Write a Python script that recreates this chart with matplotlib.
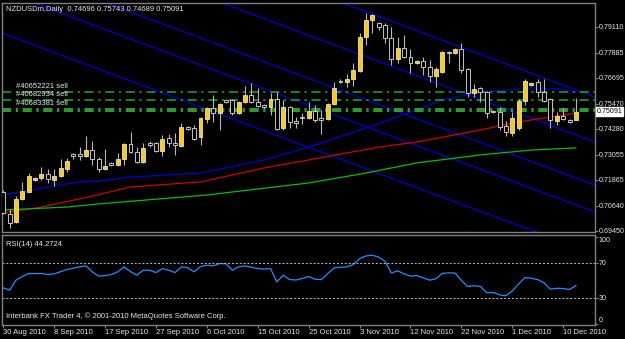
import matplotlib.pyplot as plt

# daily bars, 30 Aug 2010 .. 13 Dec 2010 (Sunday bars included)
opens = [0.7128, 0.7024, 0.6986, 0.7095, 0.7128, 0.7185, 0.7195, 0.7214, 0.7185, 0.7204,
         0.7237, 0.7308, 0.7308, 0.7299, 0.7327, 0.7285, 0.7237, 0.7266, 0.7256, 0.7285,
         0.7356, 0.7318, 0.7270, 0.7358, 0.7360, 0.7322, 0.7384, 0.7360, 0.7346, 0.7436,
         0.7431, 0.7389, 0.7474, 0.7526, 0.7502, 0.7564, 0.7564, 0.7502, 0.7554, 0.7588,
         0.7554, 0.7540, 0.7531, 0.7569, 0.7431, 0.7531, 0.7465, 0.7483, 0.7479, 0.7512,
         0.7479, 0.7474, 0.7545, 0.7654, 0.7649, 0.7663, 0.7701, 0.7862, 0.7943, 0.7929,
         0.7919, 0.7858, 0.7758, 0.7810, 0.7768, 0.7739, 0.7749, 0.7720, 0.7678, 0.7697,
         0.7791, 0.7786, 0.7805, 0.7711, 0.7597, 0.7621, 0.7602, 0.7512, 0.7507, 0.7441,
         0.7408, 0.7431, 0.7559, 0.7635, 0.7649, 0.7602, 0.7569, 0.7465, 0.7488, 0.7469,
         0.74696]
highs = [0.7138, 0.7048, 0.7109, 0.7176, 0.7218, 0.7199, 0.7247, 0.7237, 0.7237, 0.7285,
         0.7289, 0.7313, 0.7341, 0.7393, 0.7370, 0.7294, 0.7332, 0.7270, 0.7313, 0.7360,
         0.7412, 0.7341, 0.7360, 0.7370, 0.7365, 0.7398, 0.7403, 0.7408, 0.7455, 0.7441,
         0.7446, 0.7483, 0.7531, 0.7588, 0.7550, 0.7569, 0.7569, 0.7559, 0.7630, 0.7644,
         0.7621, 0.7545, 0.7597, 0.7602, 0.7564, 0.7536, 0.7483, 0.7502, 0.7554, 0.7540,
         0.7517, 0.7550, 0.7649, 0.7663, 0.7687, 0.7739, 0.7881, 0.7976, 0.7971, 0.7933,
         0.7929, 0.7910, 0.7862, 0.7872, 0.7805, 0.7753, 0.7768, 0.7753, 0.7720, 0.7796,
         0.7796, 0.7810, 0.7834, 0.7715, 0.7640, 0.7625, 0.7606, 0.7517, 0.7531, 0.7465,
         0.7507, 0.7569, 0.7663, 0.7649, 0.7663, 0.7663, 0.7573, 0.7507, 0.7526, 0.7474,
         0.75743]
lows = [0.7024, 0.6958, 0.6981, 0.7090, 0.7128, 0.7180, 0.7185, 0.7171, 0.7157, 0.7199,
        0.7223, 0.7285, 0.7280, 0.7294, 0.7256, 0.7223, 0.7232, 0.7251, 0.7251, 0.7256,
        0.7313, 0.7266, 0.7266, 0.7341, 0.7318, 0.7299, 0.7341, 0.7303, 0.7341, 0.7422,
        0.7374, 0.7351, 0.7455, 0.7460, 0.7422, 0.7550, 0.7493, 0.7498, 0.7550, 0.7550,
        0.7531, 0.7526, 0.7493, 0.7422, 0.7422, 0.7431, 0.7431, 0.7450, 0.7474, 0.7460,
        0.7403, 0.7469, 0.7540, 0.7644, 0.7625, 0.7630, 0.7697, 0.7824, 0.7881, 0.7895,
        0.7834, 0.7730, 0.7739, 0.7763, 0.7692, 0.7734, 0.7682, 0.7649, 0.7625, 0.7692,
        0.7739, 0.7782, 0.7692, 0.7578, 0.7578, 0.7554, 0.7479, 0.7502, 0.7422, 0.7393,
        0.7393, 0.7422, 0.7540, 0.7630, 0.7578, 0.7554, 0.7431, 0.7446, 0.7469, 0.7455,
        0.74689]
closes = [0.7029, 0.6981, 0.7095, 0.7133, 0.7204, 0.7195, 0.7214, 0.7190, 0.7204, 0.7242,
          0.7275, 0.7299, 0.7299, 0.7327, 0.7285, 0.7237, 0.7251, 0.7256, 0.7285, 0.7356,
          0.7318, 0.7270, 0.7337, 0.7353, 0.7322, 0.7379, 0.7360, 0.7351, 0.7436, 0.7427,
          0.7379, 0.7479, 0.7526, 0.7502, 0.7545, 0.7554, 0.7502, 0.7554, 0.7588, 0.7554,
          0.7536, 0.7531, 0.7569, 0.7427, 0.7531, 0.7460, 0.7455, 0.7479, 0.7512, 0.7469,
          0.7469, 0.7545, 0.7621, 0.7649, 0.7663, 0.7706, 0.7862, 0.7943, 0.7966, 0.7910,
          0.7858, 0.7758, 0.7810, 0.7768, 0.7739, 0.7749, 0.7720, 0.7678, 0.7711, 0.7791,
          0.7786, 0.7805, 0.7706, 0.7597, 0.7616, 0.7602, 0.7502, 0.7507, 0.7436, 0.7412,
          0.7479, 0.7559, 0.7654, 0.7644, 0.7602, 0.7559, 0.7469, 0.7488, 0.7474, 0.7460,
          0.75091]

# moving averages (bar index, price)
red_x = [0, 6, 14, 20, 31, 41, 48, 59, 65, 75, 81, 87, 90]
red_y = [0.7029, 0.7057, 0.7109, 0.7152, 0.7176, 0.7242, 0.7280, 0.7341, 0.7365, 0.7422, 0.7460, 0.7488, 0.7502]
green_x = [0, 10, 15, 32, 48, 57, 65, 75, 83, 90]
green_y = [0.7043, 0.7057, 0.7072, 0.7114, 0.7171, 0.7218, 0.7266, 0.7304, 0.7327, 0.7337]
blue_x = [0, 1, 3, 7, 12, 15, 20, 31, 41, 48, 57, 65, 69, 75, 81, 87, 90]
blue_y = [0.7124, 0.7119, 0.7128, 0.7152, 0.7176, 0.7180, 0.7199, 0.7218, 0.7280, 0.7341, 0.7431,
          0.7517, 0.7564, 0.7602, 0.7616, 0.7616, 0.7602]

# descending trend lines: price at the left and at the right edge
trend_left = [0.7881, 0.8080, 0.8208, 0.8412, 0.8625]
trend_right = [0.6835, 0.7034, 0.7161, 0.7365, 0.7578]

# order lines
order_prices = [0.7602, 0.7566, 0.7523, 0.7510]
order_labels = ['#40652221 sell', '#40682934 sell', '#40683381 sell']

rsi = [41.5, 38.9, 50.3, 54.5, 57.9, 57.9, 58.0, 56.8, 57.5, 60.0,
       62.5, 64.0, 65.5, 66.7, 59.8, 54.9, 55.5, 56.8, 59.8, 65.5,
       60.0, 56.0, 61.7, 61.7, 59.0, 63.6, 61.7, 59.0, 65.5, 64.4,
       59.8, 66.0, 67.4, 66.7, 69.3, 69.0, 61.7, 65.5, 66.7, 65.0,
       63.6, 63.0, 63.6, 48.4, 56.0, 51.0, 50.5, 52.2, 54.5, 51.4,
       51.0, 57.9, 64.4, 65.1, 65.5, 68.2, 75.0, 78.0, 78.9, 76.6,
       72.0, 58.5, 61.0, 57.5, 55.0, 55.5, 53.0, 50.3, 52.0, 58.0,
       58.7, 58.5, 50.0, 43.0, 44.0, 43.0, 36.0, 36.2, 33.5, 32.4,
       38.0, 46.0, 53.3, 52.5, 51.0, 47.2, 40.0, 41.0, 40.8, 39.6,
       44.27]

price_ticks = [0.79110, 0.77885, 0.76695, 0.75470, 0.74280, 0.73055, 0.71865, 0.70640, 0.69450]
date_labels = ['30 Aug 2010', '8 Sep 2010', '17 Sep 2010', '27 Sep 2010', '6 Oct 2010',
               '15 Oct 2010', '25 Oct 2010', '3 Nov 2010', '12 Nov 2010', '22 Nov 2010',
               '1 Dec 2010', '10 Dec 2010']

plt.rcParams['font.family'] = ['Liberation Sans', 'DejaVu Sans']
FS = 5.5
FS_AX = 5.1
TXT = '#e8e8e8'
GRID = '#808080'

fig = plt.figure(figsize=(6.25, 3.39), dpi=100, facecolor='black')
ax = fig.add_axes([2 / 625, 1 - 232 / 339, 593 / 625, 229 / 339], facecolor='black')
ax2 = fig.add_axes([2 / 625, 1 - 325 / 339, 593 / 625, 90 / 339], facecolor='black')

xmin, xmax = -0.2, 93
for a in (ax, ax2):
    a.set_xlim(xmin, xmax)
    for s in a.spines.values():
        s.set_color(GRID)
        s.set_linewidth(1)

ax.set_ylim(0.69389, 0.80232)

# lines behind candles
for l, r in zip(trend_left, trend_right):
    ax.plot([xmin, xmax], [l, r], color='#0000d0', lw=0.9, zorder=1)
ax.plot(blue_x, blue_y, color='#0000d0', lw=0.9, zorder=1)
ax.plot(red_x, red_y, color='#d00000', lw=0.9, zorder=1)
ax.plot(green_x, green_y, color='#00c000', lw=0.9, zorder=1)

for i, p in enumerate(order_prices):
    c = '#22aa22' if i < 2 else '#33cc33'
    ax.axhline(p, color=c, lw=1.1, ls=(0, (6, 3, 1.5, 3)), zorder=2)
for lab, p in zip(order_labels, order_prices):
    ax.text(2, p + 0.0008, lab, color=TXT, fontsize=FS, va='bottom', ha='left', zorder=5)

# candles
n = len(opens)
for i in range(n):
    o, h, lo, c = opens[i], highs[i], lows[i], closes[i]
    ax.vlines(i, lo, h, color='#b8b8b8', lw=0.8, zorder=3)
    bot = min(o, c)
    hgt = max(abs(c - o), 0.0006)
    fc = '#ffcc00' if c > o else 'black'
    ax.bar(i, hgt, bottom=bot, width=0.62, color=fc, edgecolor='#e0e0e0', lw=0.6, zorder=4)

ax.yaxis.tick_right()
ax.set_yticks(price_ticks)
ax.set_yticklabels(['%.5f' % p for p in price_ticks])
ax.tick_params(axis='y', colors=GRID, labelcolor=TXT, labelsize=FS_AX, length=2, pad=0.8)
ax.set_xticks([])

ax.text(xmax + 0.3, closes[-1], '%.5f' % closes[-1], color='black', fontsize=FS_AX, va='center',
        ha='left', transform=ax.transData, clip_on=False,
        bbox=dict(boxstyle='square,pad=0.1', fc='white', ec='white'))

ax.text(0.006, 0.985, 'NZDUSDm,Daily  %.5f %.5f %.5f %.5f' % (opens[-1], highs[-1], lows[-1], closes[-1]),
        transform=ax.transAxes, color=TXT, fontsize=FS, va='top', ha='left')

# RSI panel
ax2.set_ylim(-1, 102)
ax2.plot(range(n), rsi, color='#1e90ff', lw=0.9)
for lvl in (70, 30):
    ax2.axhline(lvl, color='#c0c0c0', lw=0.7, ls=(0, (2, 2)))
ax2.yaxis.tick_right()
ax2.set_yticks([100, 70, 30, 0])
ax2.set_yticklabels(['100', '70', '30', '0'])
ax2.tick_params(axis='y', colors=GRID, labelcolor=TXT, labelsize=FS_AX, length=2, pad=0.8)
rl = ax2.get_yticklabels()
rl[0].set_va('top')
rl[-1].set_va('bottom')
ax2.set_xticks(range(0, 8 * len(date_labels), 8))
ax2.set_xticklabels(date_labels, ha='left')
ax2.tick_params(axis='x', colors=GRID, labelcolor=TXT, labelsize=FS, length=2, pad=1)

ax2.text(0.006, 0.93, 'RSI(14) %.4f' % 44.2724, transform=ax2.transAxes, color=TXT,
         fontsize=FS, va='top', ha='left')
ax2.text(0.006, 0.05, 'Interbank FX Trader 4, \u00a9 2001-2010 MetaQuotes Software Corp.',
         transform=ax2.transAxes, color=TXT, fontsize=FS, va='bottom', ha='left')

fig.savefig('out.png', dpi=100, facecolor='black')
